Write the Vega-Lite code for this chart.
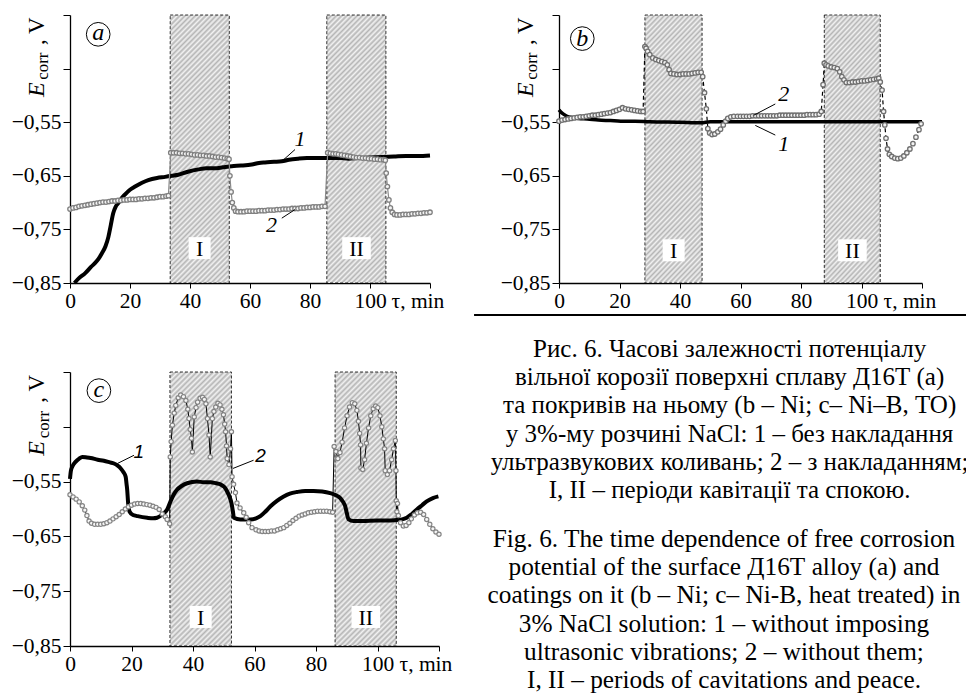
{
"$schema": "https://vega.github.io/schema/vega-lite/v6.json",
"padding": {"left": 11, "top": 4, "right": 0, "bottom": 0},
"background": "white",
"columns": 2,
"bounds": "flush",
"align": "each",
"spacing": {"row": 89, "column": 120},
"config": {
  "view": {"stroke": null},
  "font": "Liberation Serif",
  "text": {"font": "Liberation Serif", "fill": "black"},
  "axis": {"grid": false, "domainColor": "black", "domainWidth": 1.3, "tickColor": "black", "tickWidth": 1, "labelColor": "black", "labelFont": "Liberation Serif", "labelFontSize": 21.5, "labelPadding": 2, "labelOverlap": false, "labelFlush": false, "labelBound": false},
  "rect": {"stroke": "black", "strokeDash": [3, 2], "strokeWidth": 0.8, "fill": {"gradient": "linear", "x1": 0, "y1": 0, "x2": 0.26, "y2": 1.165, "stops": [
{"offset":0,"color":"#b5b5b5"},{"offset":0.008,"color":"#f2f2f2"},{"offset":0.016,"color":"#b5b5b5"},{"offset":0.024,"color":"#f2f2f2"},{"offset":0.032,"color":"#b5b5b5"},{"offset":0.04,"color":"#f2f2f2"},{"offset":0.048,"color":"#b5b5b5"},{"offset":0.056,"color":"#f2f2f2"},{"offset":0.064,"color":"#b5b5b5"},{"offset":0.072,"color":"#f2f2f2"},{"offset":0.08,"color":"#b5b5b5"},{"offset":0.088,"color":"#f2f2f2"},{"offset":0.096,"color":"#b5b5b5"},{"offset":0.104,"color":"#f2f2f2"},{"offset":0.112,"color":"#b5b5b5"},{"offset":0.12,"color":"#f2f2f2"},{"offset":0.128,"color":"#b5b5b5"},{"offset":0.136,"color":"#f2f2f2"},{"offset":0.144,"color":"#b5b5b5"},{"offset":0.152,"color":"#f2f2f2"},{"offset":0.16,"color":"#b5b5b5"},{"offset":0.168,"color":"#f2f2f2"},{"offset":0.176,"color":"#b5b5b5"},{"offset":0.184,"color":"#f2f2f2"},{"offset":0.192,"color":"#b5b5b5"},{"offset":0.2,"color":"#f2f2f2"},{"offset":0.208,"color":"#b5b5b5"},{"offset":0.216,"color":"#f2f2f2"},{"offset":0.224,"color":"#b5b5b5"},{"offset":0.232,"color":"#f2f2f2"},{"offset":0.24,"color":"#b5b5b5"},{"offset":0.248,"color":"#f2f2f2"},{"offset":0.256,"color":"#b5b5b5"},{"offset":0.264,"color":"#f2f2f2"},{"offset":0.272,"color":"#b5b5b5"},{"offset":0.28,"color":"#f2f2f2"},{"offset":0.288,"color":"#b5b5b5"},{"offset":0.296,"color":"#f2f2f2"},{"offset":0.304,"color":"#b5b5b5"},{"offset":0.312,"color":"#f2f2f2"},{"offset":0.32,"color":"#b5b5b5"},{"offset":0.328,"color":"#f2f2f2"},{"offset":0.336,"color":"#b5b5b5"},{"offset":0.344,"color":"#f2f2f2"},{"offset":0.352,"color":"#b5b5b5"},{"offset":0.36,"color":"#f2f2f2"},{"offset":0.368,"color":"#b5b5b5"},{"offset":0.376,"color":"#f2f2f2"},{"offset":0.384,"color":"#b5b5b5"},{"offset":0.392,"color":"#f2f2f2"},{"offset":0.4,"color":"#b5b5b5"},{"offset":0.408,"color":"#f2f2f2"},{"offset":0.416,"color":"#b5b5b5"},{"offset":0.424,"color":"#f2f2f2"},{"offset":0.432,"color":"#b5b5b5"},{"offset":0.44,"color":"#f2f2f2"},{"offset":0.448,"color":"#b5b5b5"},{"offset":0.456,"color":"#f2f2f2"},{"offset":0.464,"color":"#b5b5b5"},{"offset":0.472,"color":"#f2f2f2"},{"offset":0.48,"color":"#b5b5b5"},{"offset":0.488,"color":"#f2f2f2"},{"offset":0.496,"color":"#b5b5b5"},{"offset":0.504,"color":"#f2f2f2"},{"offset":0.512,"color":"#b5b5b5"},{"offset":0.52,"color":"#f2f2f2"},{"offset":0.528,"color":"#b5b5b5"},{"offset":0.536,"color":"#f2f2f2"},{"offset":0.544,"color":"#b5b5b5"},{"offset":0.552,"color":"#f2f2f2"},{"offset":0.56,"color":"#b5b5b5"},{"offset":0.568,"color":"#f2f2f2"},{"offset":0.576,"color":"#b5b5b5"},{"offset":0.584,"color":"#f2f2f2"},{"offset":0.592,"color":"#b5b5b5"},{"offset":0.6,"color":"#f2f2f2"},{"offset":0.608,"color":"#b5b5b5"},{"offset":0.616,"color":"#f2f2f2"},{"offset":0.624,"color":"#b5b5b5"},{"offset":0.632,"color":"#f2f2f2"},{"offset":0.64,"color":"#b5b5b5"},{"offset":0.648,"color":"#f2f2f2"},{"offset":0.656,"color":"#b5b5b5"},{"offset":0.664,"color":"#f2f2f2"},{"offset":0.672,"color":"#b5b5b5"},{"offset":0.68,"color":"#f2f2f2"},{"offset":0.688,"color":"#b5b5b5"},{"offset":0.696,"color":"#f2f2f2"},{"offset":0.704,"color":"#b5b5b5"},{"offset":0.712,"color":"#f2f2f2"},{"offset":0.72,"color":"#b5b5b5"},{"offset":0.728,"color":"#f2f2f2"},{"offset":0.736,"color":"#b5b5b5"},{"offset":0.744,"color":"#f2f2f2"},{"offset":0.752,"color":"#b5b5b5"},{"offset":0.76,"color":"#f2f2f2"},{"offset":0.768,"color":"#b5b5b5"},{"offset":0.776,"color":"#f2f2f2"},{"offset":0.784,"color":"#b5b5b5"},{"offset":0.792,"color":"#f2f2f2"},{"offset":0.8,"color":"#b5b5b5"},{"offset":0.808,"color":"#f2f2f2"},{"offset":0.816,"color":"#b5b5b5"},{"offset":0.824,"color":"#f2f2f2"},{"offset":0.832,"color":"#b5b5b5"},{"offset":0.84,"color":"#f2f2f2"},{"offset":0.848,"color":"#b5b5b5"},{"offset":0.856,"color":"#f2f2f2"},{"offset":0.864,"color":"#b5b5b5"},{"offset":0.872,"color":"#f2f2f2"},{"offset":0.88,"color":"#b5b5b5"},{"offset":0.888,"color":"#f2f2f2"},{"offset":0.896,"color":"#b5b5b5"},{"offset":0.904,"color":"#f2f2f2"},{"offset":0.912,"color":"#b5b5b5"},{"offset":0.92,"color":"#f2f2f2"},{"offset":0.928,"color":"#b5b5b5"},{"offset":0.936,"color":"#f2f2f2"},{"offset":0.944,"color":"#b5b5b5"},{"offset":0.952,"color":"#f2f2f2"},{"offset":0.96,"color":"#b5b5b5"},{"offset":0.968,"color":"#f2f2f2"},{"offset":0.976,"color":"#b5b5b5"},{"offset":0.984,"color":"#f2f2f2"},{"offset":0.992,"color":"#b5b5b5"},{"offset":1,"color":"#f2f2f2"}
  ]}}
},
"datasets": {
  "pa": [{"s":33.4,"f":53.1,"m":43.2,"lab":"I"},{"s":85.6,"f":105.3,"m":95.5,"lab":"II"}],
  "pb": [{"s":28.4,"f":47.3,"m":37.9,"lab":"I"},{"s":87.7,"f":106.2,"m":97.0,"lab":"II"}],
  "pc": [{"s":32.5,"f":52.5,"m":42.5,"lab":"I"},{"s":86.2,"f":106.1,"m":96.2,"lab":"II"}],
  "a1": [{"t":1.5,"e":-0.850},{"t":3,"e":-0.841},{"t":5,"e":-0.832},{"t":7,"e":-0.820},{"t":8.3,"e":-0.813},{"t":9.5,"e":-0.805},{"t":10.6,"e":-0.795},{"t":11.8,"e":-0.782},{"t":12.8,"e":-0.764},{"t":13.6,"e":-0.742},{"t":14.4,"e":-0.720},{"t":15.2,"e":-0.708},{"t":16.1,"e":-0.701},{"t":17.2,"e":-0.692},{"t":18.3,"e":-0.685},{"t":20,"e":-0.676},{"t":21.7,"e":-0.670},{"t":24,"e":-0.663},{"t":26.1,"e":-0.658},{"t":29,"e":-0.654},{"t":31.7,"e":-0.652},{"t":34,"e":-0.650},{"t":36.1,"e":-0.648},{"t":39,"e":-0.643},{"t":42.8,"e":-0.638},{"t":45.5,"e":-0.636},{"t":48.3,"e":-0.636},{"t":51,"e":-0.634},{"t":53.9,"e":-0.632},{"t":57,"e":-0.631},{"t":60.6,"e":-0.629},{"t":63,"e":-0.626},{"t":65,"e":-0.625},{"t":68,"e":-0.624},{"t":70.6,"e":-0.623},{"t":73,"e":-0.620},{"t":76.1,"e":-0.618},{"t":79,"e":-0.617},{"t":82.8,"e":-0.617},{"t":86,"e":-0.617},{"t":90,"e":-0.617},{"t":92.8,"e":-0.618},{"t":96,"e":-0.617},{"t":100,"e":-0.616},{"t":103.9,"e":-0.615},{"t":108,"e":-0.614},{"t":112,"e":-0.613},{"t":116,"e":-0.613},{"t":120,"e":-0.612}],
  "a2": [{"t":0,"e":-0.712},{"t":1,"e":-0.710},{"t":2,"e":-0.709},{"t":3,"e":-0.707},{"t":4,"e":-0.706},{"t":5,"e":-0.705},{"t":6,"e":-0.704},{"t":7,"e":-0.703},{"t":8,"e":-0.702},{"t":9,"e":-0.701},{"t":10,"e":-0.700},{"t":11,"e":-0.699},{"t":12,"e":-0.699},{"t":13,"e":-0.698},{"t":14,"e":-0.697},{"t":15,"e":-0.697},{"t":16,"e":-0.696},{"t":17,"e":-0.696},{"t":18,"e":-0.695},{"t":19,"e":-0.695},{"t":20,"e":-0.694},{"t":21,"e":-0.694},{"t":22,"e":-0.694},{"t":23,"e":-0.693},{"t":24,"e":-0.693},{"t":25,"e":-0.692},{"t":26,"e":-0.692},{"t":27,"e":-0.691},{"t":28,"e":-0.691},{"t":29,"e":-0.690},{"t":30,"e":-0.689},{"t":31,"e":-0.689},{"t":32,"e":-0.688},{"t":32.8,"e":-0.687},{"t":33.6,"e":-0.607},{"t":34.5,"e":-0.607},{"t":35.5,"e":-0.607},{"t":36.5,"e":-0.608},{"t":37.5,"e":-0.608},{"t":38.5,"e":-0.609},{"t":39.5,"e":-0.609},{"t":40.5,"e":-0.610},{"t":41.5,"e":-0.611},{"t":42.5,"e":-0.611},{"t":43.5,"e":-0.612},{"t":44.5,"e":-0.612},{"t":45.5,"e":-0.613},{"t":46.5,"e":-0.613},{"t":47.5,"e":-0.614},{"t":48.5,"e":-0.615},{"t":49.5,"e":-0.615},{"t":50.5,"e":-0.616},{"t":51.5,"e":-0.617},{"t":52.4,"e":-0.618},{"t":53.0,"e":-0.619},{"t":53.3,"e":-0.650},{"t":53.7,"e":-0.680},{"t":54.1,"e":-0.700},{"t":54.6,"e":-0.710},{"t":55.2,"e":-0.716},{"t":56,"e":-0.717},{"t":57,"e":-0.717},{"t":58,"e":-0.717},{"t":59,"e":-0.716},{"t":60,"e":-0.716},{"t":61,"e":-0.716},{"t":62,"e":-0.716},{"t":63,"e":-0.715},{"t":64,"e":-0.715},{"t":65,"e":-0.715},{"t":66,"e":-0.714},{"t":67,"e":-0.714},{"t":68,"e":-0.714},{"t":69,"e":-0.713},{"t":70,"e":-0.713},{"t":71,"e":-0.712},{"t":72,"e":-0.712},{"t":73,"e":-0.712},{"t":74,"e":-0.711},{"t":75,"e":-0.711},{"t":76,"e":-0.711},{"t":77,"e":-0.710},{"t":78,"e":-0.710},{"t":79,"e":-0.709},{"t":80,"e":-0.709},{"t":81,"e":-0.708},{"t":82,"e":-0.708},{"t":83,"e":-0.708},{"t":84,"e":-0.707},{"t":85,"e":-0.707},{"t":85.9,"e":-0.607},{"t":86.8,"e":-0.608},{"t":87.7,"e":-0.609},{"t":88.6,"e":-0.609},{"t":89.5,"e":-0.610},{"t":90.5,"e":-0.611},{"t":91.5,"e":-0.612},{"t":92.5,"e":-0.613},{"t":93.5,"e":-0.614},{"t":94.5,"e":-0.615},{"t":95.5,"e":-0.616},{"t":96.5,"e":-0.616},{"t":97.5,"e":-0.617},{"t":98.5,"e":-0.617},{"t":99.5,"e":-0.618},{"t":100.5,"e":-0.618},{"t":101.5,"e":-0.619},{"t":102.5,"e":-0.619},{"t":103.5,"e":-0.620},{"t":104.5,"e":-0.620},{"t":105.1,"e":-0.621},{"t":105.4,"e":-0.645},{"t":105.8,"e":-0.670},{"t":106.3,"e":-0.695},{"t":106.8,"e":-0.710},{"t":107.4,"e":-0.718},{"t":108.2,"e":-0.722},{"t":109,"e":-0.723},{"t":110,"e":-0.723},{"t":111,"e":-0.722},{"t":112,"e":-0.722},{"t":113,"e":-0.722},{"t":114,"e":-0.721},{"t":115,"e":-0.721},{"t":116,"e":-0.720},{"t":117,"e":-0.720},{"t":118,"e":-0.719},{"t":119,"e":-0.719},{"t":120,"e":-0.718}],
  "b1": [{"t":0,"e":-0.527},{"t":0.6,"e":-0.531},{"t":1.5,"e":-0.535},{"t":2.7,"e":-0.539},{"t":4.5,"e":-0.541},{"t":6.5,"e":-0.543},{"t":9.4,"e":-0.544},{"t":13,"e":-0.546},{"t":17,"e":-0.547},{"t":20.4,"e":-0.548},{"t":25,"e":-0.548},{"t":30,"e":-0.549},{"t":40,"e":-0.550},{"t":47,"e":-0.551},{"t":50,"e":-0.549},{"t":60,"e":-0.549},{"t":80,"e":-0.549},{"t":100,"e":-0.549},{"t":120,"e":-0.549}],
  "b2": [{"t":0,"e":-0.548},{"t":1,"e":-0.546},{"t":2,"e":-0.545},{"t":3,"e":-0.544},{"t":4,"e":-0.543},{"t":5,"e":-0.542},{"t":6,"e":-0.541},{"t":7,"e":-0.540},{"t":8,"e":-0.540},{"t":9,"e":-0.539},{"t":10,"e":-0.538},{"t":11,"e":-0.537},{"t":12,"e":-0.537},{"t":13,"e":-0.536},{"t":14,"e":-0.535},{"t":15,"e":-0.534},{"t":16,"e":-0.533},{"t":17,"e":-0.532},{"t":18,"e":-0.530},{"t":19,"e":-0.528},{"t":20,"e":-0.526},{"t":21,"e":-0.523},{"t":22,"e":-0.525},{"t":23,"e":-0.526},{"t":24,"e":-0.527},{"t":25,"e":-0.528},{"t":26,"e":-0.529},{"t":27,"e":-0.530},{"t":27.8,"e":-0.530},{"t":28.4,"e":-0.409},{"t":28.8,"e":-0.412},{"t":29.3,"e":-0.418},{"t":30,"e":-0.424},{"t":31,"e":-0.430},{"t":32,"e":-0.433},{"t":33,"e":-0.435},{"t":34,"e":-0.437},{"t":35,"e":-0.439},{"t":35.8,"e":-0.443},{"t":36.4,"e":-0.452},{"t":37,"e":-0.459},{"t":38,"e":-0.460},{"t":39,"e":-0.461},{"t":40,"e":-0.461},{"t":41,"e":-0.460},{"t":42,"e":-0.460},{"t":43,"e":-0.460},{"t":44,"e":-0.459},{"t":45,"e":-0.458},{"t":46,"e":-0.457},{"t":47,"e":-0.457},{"t":47.5,"e":-0.465},{"t":48.1,"e":-0.495},{"t":48.7,"e":-0.525},{"t":49.2,"e":-0.562},{"t":49.8,"e":-0.570},{"t":50.6,"e":-0.573},{"t":51.5,"e":-0.572},{"t":52.5,"e":-0.568},{"t":53.4,"e":-0.563},{"t":54.3,"e":-0.555},{"t":55.1,"e":-0.548},{"t":55.8,"e":-0.543},{"t":56.8,"e":-0.540},{"t":57.8,"e":-0.539},{"t":59,"e":-0.539},{"t":60,"e":-0.539},{"t":61,"e":-0.539},{"t":62,"e":-0.539},{"t":63,"e":-0.539},{"t":64,"e":-0.538},{"t":65,"e":-0.538},{"t":66,"e":-0.538},{"t":67,"e":-0.538},{"t":68,"e":-0.538},{"t":69,"e":-0.538},{"t":70,"e":-0.538},{"t":71,"e":-0.538},{"t":72,"e":-0.538},{"t":73,"e":-0.537},{"t":74,"e":-0.537},{"t":75,"e":-0.537},{"t":76,"e":-0.537},{"t":77,"e":-0.537},{"t":78,"e":-0.537},{"t":79,"e":-0.537},{"t":80,"e":-0.537},{"t":81,"e":-0.537},{"t":82,"e":-0.536},{"t":83,"e":-0.536},{"t":84,"e":-0.536},{"t":85,"e":-0.536},{"t":86,"e":-0.535},{"t":86.7,"e":-0.530},{"t":87.3,"e":-0.480},{"t":87.7,"e":-0.440},{"t":88.3,"e":-0.443},{"t":89,"e":-0.445},{"t":90,"e":-0.447},{"t":91,"e":-0.448},{"t":92,"e":-0.450},{"t":92.8,"e":-0.456},{"t":93.5,"e":-0.465},{"t":94.2,"e":-0.471},{"t":95,"e":-0.476},{"t":96,"e":-0.476},{"t":97,"e":-0.475},{"t":98,"e":-0.475},{"t":99,"e":-0.474},{"t":100,"e":-0.473},{"t":101,"e":-0.473},{"t":102,"e":-0.472},{"t":103,"e":-0.471},{"t":104,"e":-0.470},{"t":105,"e":-0.469},{"t":105.7,"e":-0.468},{"t":106.2,"e":-0.475},{"t":106.8,"e":-0.490},{"t":107.3,"e":-0.530},{"t":107.7,"e":-0.555},{"t":108.1,"e":-0.580},{"t":108.6,"e":-0.600},{"t":109.2,"e":-0.610},{"t":110,"e":-0.614},{"t":111,"e":-0.617},{"t":112,"e":-0.618},{"t":113,"e":-0.617},{"t":114,"e":-0.613},{"t":115,"e":-0.607},{"t":116,"e":-0.600},{"t":117,"e":-0.590},{"t":118,"e":-0.578},{"t":119,"e":-0.564},{"t":119.7,"e":-0.553}],
  "c1": [{"t":0,"e":-0.545},{"t":0.3,"e":-0.530},{"t":0.8,"e":-0.522},{"t":1.8,"e":-0.514},{"t":3,"e":-0.508},{"t":4,"e":-0.505},{"t":5.5,"e":-0.506},{"t":6.7,"e":-0.507},{"t":9,"e":-0.510},{"t":11,"e":-0.512},{"t":13,"e":-0.515},{"t":14.3,"e":-0.517},{"t":15.5,"e":-0.521},{"t":16.5,"e":-0.526},{"t":17.4,"e":-0.533},{"t":18.1,"e":-0.541},{"t":18.4,"e":-0.555},{"t":18.6,"e":-0.565},{"t":18.9,"e":-0.589},{"t":19.4,"e":-0.605},{"t":20.5,"e":-0.611},{"t":22,"e":-0.613},{"t":25.1,"e":-0.616},{"t":27,"e":-0.617},{"t":28.3,"e":-0.616},{"t":30,"e":-0.610},{"t":31.6,"e":-0.601},{"t":32.7,"e":-0.586},{"t":33.7,"e":-0.574},{"t":34.8,"e":-0.565},{"t":36.3,"e":-0.558},{"t":38.1,"e":-0.553},{"t":41.3,"e":-0.550},{"t":43.5,"e":-0.551},{"t":45.7,"e":-0.551},{"t":47.5,"e":-0.553},{"t":48.9,"e":-0.555},{"t":50.2,"e":-0.560},{"t":51.1,"e":-0.568},{"t":51.9,"e":-0.578},{"t":52.5,"e":-0.589},{"t":53,"e":-0.605},{"t":53.3,"e":-0.616},{"t":55.4,"e":-0.619},{"t":58.7,"e":-0.619},{"t":60.5,"e":-0.617},{"t":61.9,"e":-0.613},{"t":63.5,"e":-0.605},{"t":65.2,"e":-0.595},{"t":67.3,"e":-0.585},{"t":69.5,"e":-0.577},{"t":71.5,"e":-0.572},{"t":73.8,"e":-0.569},{"t":76.5,"e":-0.567},{"t":79.2,"e":-0.567},{"t":82,"e":-0.568},{"t":84.6,"e":-0.571},{"t":86.5,"e":-0.575},{"t":87.9,"e":-0.580},{"t":88.8,"e":-0.587},{"t":89.5,"e":-0.595},{"t":90,"e":-0.607},{"t":90.6,"e":-0.619},{"t":92.2,"e":-0.622},{"t":95,"e":-0.622},{"t":100,"e":-0.621},{"t":103,"e":-0.621},{"t":106.3,"e":-0.620},{"t":108,"e":-0.619},{"t":109.5,"e":-0.616},{"t":111,"e":-0.610},{"t":112.8,"e":-0.601},{"t":114.5,"e":-0.593},{"t":116,"e":-0.586},{"t":118,"e":-0.580},{"t":119.8,"e":-0.577}],
  "c2": [{"t":0,"e":-0.574},{"t":1,"e":-0.578},{"t":2,"e":-0.582},{"t":3,"e":-0.587},{"t":4,"e":-0.594},{"t":4.8,"e":-0.602},{"t":5.5,"e":-0.612},{"t":6.2,"e":-0.622},{"t":7,"e":-0.626},{"t":8,"e":-0.628},{"t":9,"e":-0.628},{"t":10,"e":-0.628},{"t":11,"e":-0.627},{"t":12,"e":-0.625},{"t":13,"e":-0.622},{"t":14,"e":-0.618},{"t":15,"e":-0.614},{"t":16,"e":-0.610},{"t":17,"e":-0.605},{"t":18,"e":-0.600},{"t":19,"e":-0.596},{"t":20,"e":-0.593},{"t":21,"e":-0.591},{"t":22,"e":-0.590},{"t":23,"e":-0.590},{"t":24,"e":-0.591},{"t":25,"e":-0.592},{"t":26,"e":-0.593},{"t":27,"e":-0.595},{"t":28,"e":-0.597},{"t":29,"e":-0.601},{"t":30,"e":-0.609},{"t":31,"e":-0.614},{"t":31.6,"e":-0.619},{"t":32.4,"e":-0.627},{"t":32.6,"e":-0.505},{"t":32.9,"e":-0.477},{"t":33.3,"e":-0.447},{"t":33.9,"e":-0.425},{"t":34.4,"e":-0.411},{"t":35.2,"e":-0.397},{"t":36.0,"e":-0.392},{"t":36.9,"e":-0.395},{"t":37.7,"e":-0.402},{"t":38.3,"e":-0.418},{"t":38.7,"e":-0.435},{"t":39.1,"e":-0.455},{"t":39.5,"e":-0.471},{"t":39.8,"e":-0.496},{"t":40.4,"e":-0.432},{"t":41.0,"e":-0.415},{"t":41.5,"e":-0.405},{"t":42.3,"e":-0.398},{"t":43.1,"e":-0.396},{"t":43.7,"e":-0.400},{"t":44.2,"e":-0.408},{"t":44.7,"e":-0.435},{"t":45.2,"e":-0.465},{"t":45.6,"e":-0.505},{"t":46.3,"e":-0.435},{"t":46.8,"e":-0.422},{"t":47.4,"e":-0.414},{"t":48.1,"e":-0.407},{"t":48.8,"e":-0.410},{"t":49.4,"e":-0.418},{"t":49.9,"e":-0.428},{"t":50.3,"e":-0.445},{"t":50.6,"e":-0.459},{"t":50.9,"e":-0.485},{"t":51.1,"e":-0.508},{"t":51.7,"e":-0.519},{"t":52.2,"e":-0.490},{"t":52.5,"e":-0.459},{"t":52.7,"e":-0.541},{"t":53.2,"e":-0.555},{"t":53.8,"e":-0.570},{"t":54.3,"e":-0.589},{"t":55.3,"e":-0.598},{"t":56.5,"e":-0.607},{"t":57.3,"e":-0.615},{"t":58.1,"e":-0.625},{"t":59.2,"e":-0.634},{"t":60.5,"e":-0.638},{"t":61.5,"e":-0.640},{"t":62.5,"e":-0.641},{"t":63.5,"e":-0.641},{"t":64.5,"e":-0.641},{"t":65.5,"e":-0.640},{"t":66.5,"e":-0.640},{"t":67.5,"e":-0.638},{"t":68.5,"e":-0.636},{"t":69.5,"e":-0.634},{"t":70.5,"e":-0.630},{"t":71.5,"e":-0.626},{"t":72.5,"e":-0.621},{"t":73.5,"e":-0.617},{"t":74.5,"e":-0.613},{"t":75.5,"e":-0.611},{"t":76.5,"e":-0.609},{"t":77.5,"e":-0.607},{"t":78.5,"e":-0.606},{"t":79.5,"e":-0.605},{"t":80.5,"e":-0.604},{"t":81.5,"e":-0.604},{"t":82.5,"e":-0.604},{"t":83.5,"e":-0.604},{"t":84.5,"e":-0.605},{"t":85.4,"e":-0.606},{"t":85.9,"e":-0.486},{"t":86.5,"e":-0.495},{"t":87.1,"e":-0.508},{"t":87.8,"e":-0.497},{"t":88.5,"e":-0.478},{"t":89.3,"e":-0.452},{"t":90.1,"e":-0.430},{"t":90.9,"e":-0.414},{"t":91.8,"e":-0.406},{"t":92.6,"e":-0.408},{"t":93.3,"e":-0.420},{"t":93.8,"e":-0.440},{"t":94.2,"e":-0.462},{"t":94.5,"e":-0.483},{"t":94.6,"e":-0.525},{"t":95.2,"e":-0.528},{"t":95.8,"e":-0.510},{"t":96.4,"e":-0.480},{"t":97.1,"e":-0.452},{"t":97.8,"e":-0.430},{"t":98.6,"e":-0.417},{"t":99.4,"e":-0.412},{"t":100.1,"e":-0.415},{"t":100.8,"e":-0.430},{"t":101.4,"e":-0.450},{"t":101.9,"e":-0.472},{"t":102.3,"e":-0.490},{"t":102.5,"e":-0.530},{"t":103.2,"e":-0.537},{"t":103.9,"e":-0.530},{"t":104.6,"e":-0.510},{"t":105.2,"e":-0.490},{"t":105.8,"e":-0.475},{"t":106.0,"e":-0.530},{"t":106.1,"e":-0.585},{"t":106.3,"e":-0.605},{"t":106.5,"e":-0.590},{"t":106.8,"e":-0.612},{"t":107.5,"e":-0.625},{"t":108.4,"e":-0.631},{"t":109.3,"e":-0.630},{"t":110.2,"e":-0.625},{"t":111,"e":-0.618},{"t":112,"e":-0.611},{"t":113,"e":-0.607},{"t":114,"e":-0.606},{"t":115,"e":-0.610},{"t":116,"e":-0.619},{"t":117,"e":-0.628},{"t":118,"e":-0.636},{"t":119,"e":-0.642},{"t":120,"e":-0.646}]
},
"concat": [
{
  "width": 360, "height": 268,
  "layer": [
    {"data": {"name": "pa"}, "mark": {"type": "rect"},
     "encoding": {
       "x": {"field": "s", "type": "quantitative", "title": null, "scale": {"domain": [0, 120], "nice": false},
             "axis": {"title": null, "values": [0,10,20,30,40,50,60,70,80,90,100,110,120], "tickSize": 5,
                      "labelExpr": "datum.value == 120 ? 'τ, min' : (datum.value % 20 == 0 ? datum.label : '')",
                      "labelAlign": {"condition": {"test": "datum.value == 120", "value": "left"}, "value": "center"},
                      "labelOffset": {"condition": {"test": "datum.value == 120", "value": -39}, "value": 0}}},
       "x2": {"field": "f"},
       "y": {"datum": -0.85, "type": "quantitative", "title": null, "scale": {"domain": [-0.85, -0.35], "nice": false, "zero": false},
             "axis": {"title": null, "values": [-0.85,-0.825,-0.8,-0.775,-0.75,-0.725,-0.7,-0.675,-0.65,-0.625,-0.6,-0.575,-0.55,-0.525,-0.5,-0.475,-0.45,-0.425,-0.4,-0.375,-0.35],
                      "tickSize": {"condition": {"test": "abs(datum.value*10 - floor(datum.value*10) - 0.5) < 0.01", "value": 7}, "value": 4},
                      "labelExpr": "(abs(datum.value*10 - floor(datum.value*10) - 0.5) < 0.01 && datum.value < -0.5) ? '−0,' + toString(round(-datum.value*100)) : ''"}},
       "y2": {"datum": -0.35}}},
    {"data": {"name": "a1"}, "mark": {"type": "line", "color": "black", "strokeWidth": 4, "interpolate": "monotone"},
     "encoding": {"x": {"field": "t", "type": "quantitative"}, "y": {"field": "e", "type": "quantitative"}}},
    {"data": {"name": "a2"}, "mark": {"type": "line", "color": "#8a8a8a", "strokeWidth": 1.2, "point": {"filled": true, "fill": "#f4f4f4", "stroke": "#808080", "strokeWidth": 1.3, "size": 20, "opacity": 1}},
     "encoding": {"x": {"field": "t", "type": "quantitative"}, "y": {"field": "e", "type": "quantitative"}}},
    {"data": {"name": "pa"}, "mark": {"type": "point", "filled": true, "fill": "white", "strokeWidth": 0, "size": 484, "opacity": 1},
     "encoding": {"x": {"field": "m", "type": "quantitative"}, "y": {"datum": -0.785},
                  "shape": {"field": "lab", "type": "nominal", "scale": {"domain": ["I", "II"], "range": ["square", "M-1.3,-1H1.3V1H-1.3Z"]}, "legend": null}}},
    {"data": {"name": "pa"}, "mark": {"type": "text", "fontSize": 22, "baseline": "middle", "dy": 1},
     "encoding": {"x": {"field": "m", "type": "quantitative"}, "y": {"datum": -0.785}, "text": {"field": "lab"}}},
    {"data": {"values": [{}]}, "mark": {"type": "point", "shape": "circle", "size": 560, "filled": false, "stroke": "black", "strokeWidth": 1, "opacity": 1},
     "encoding": {"x": {"datum": 9.4}, "y": {"datum": -0.386}}},
    {"data": {"values": [{}]}, "mark": {"type": "text", "text": "a", "fontStyle": "italic", "fontSize": 24, "baseline": "middle", "dy": -1},
     "encoding": {"x": {"datum": 9.4}, "y": {"datum": -0.386}}},
    {"data": {"values": [{"t": 76.7, "e": -0.582, "txt": "1"}, {"t": 67.2, "e": -0.741, "txt": "2"}]}, "mark": {"type": "text", "fontStyle": "italic", "fontSize": 22, "baseline": "middle"},
     "encoding": {"x": {"field": "t", "type": "quantitative"}, "y": {"field": "e", "type": "quantitative"}, "text": {"field": "txt"}}},
    {"data": {"values": [{"t": 75, "e": -0.601, "t2": 70.6, "e2": -0.623}, {"t": 70.6, "e": -0.729, "t2": 75, "e2": -0.713}]}, "mark": {"type": "rule", "color": "black", "strokeWidth": 1},
     "encoding": {"x": {"field": "t", "type": "quantitative"}, "y": {"field": "e", "type": "quantitative"}, "x2": {"field": "t2"}, "y2": {"field": "e2"}}},
    {"data": {"values": [{}]}, "mark": {"type": "text", "text": "E", "angle": 270, "align": "left", "baseline": "alphabetic", "fontSize": 24, "fontStyle": "italic"},
     "encoding": {"x": {"datum": -8.7}, "y": {"datum": -0.503}}},
    {"data": {"values": [{}]}, "mark": {"type": "text", "text": "corr", "angle": 270, "align": "left", "baseline": "alphabetic", "fontSize": 17},
     "encoding": {"x": {"datum": -7.2}, "y": {"datum": -0.471}}},
    {"data": {"values": [{}]}, "mark": {"type": "text", "text": ", V", "angle": 270, "align": "left", "baseline": "alphabetic", "fontSize": 23},
     "encoding": {"x": {"datum": -8.7}, "y": {"datum": -0.406}}}
  ]
},
{
  "width": 363, "height": 268,
  "layer": [
    {"data": {"name": "pb"}, "mark": {"type": "rect"},
     "encoding": {
       "x": {"field": "s", "type": "quantitative", "title": null, "scale": {"domain": [0, 120], "nice": false},
             "axis": {"title": null, "values": [0,10,20,30,40,50,60,70,80,90,100,110,120], "tickSize": 5,
                      "labelExpr": "datum.value == 120 ? 'τ, min' : (datum.value % 20 == 0 ? datum.label : '')",
                      "labelAlign": {"condition": {"test": "datum.value == 120", "value": "left"}, "value": "center"},
                      "labelOffset": {"condition": {"test": "datum.value == 120", "value": -39}, "value": 0}}},
       "x2": {"field": "f"},
       "y": {"datum": -0.85, "type": "quantitative", "title": null, "scale": {"domain": [-0.85, -0.35], "nice": false, "zero": false},
             "axis": {"title": null, "values": [-0.85,-0.825,-0.8,-0.775,-0.75,-0.725,-0.7,-0.675,-0.65,-0.625,-0.6,-0.575,-0.55,-0.525,-0.5,-0.475,-0.45,-0.425,-0.4,-0.375,-0.35],
                      "tickSize": {"condition": {"test": "abs(datum.value*10 - floor(datum.value*10) - 0.5) < 0.01", "value": 7}, "value": 4},
                      "labelExpr": "(abs(datum.value*10 - floor(datum.value*10) - 0.5) < 0.01 && datum.value < -0.5) ? '−0,' + toString(round(-datum.value*100)) : ''"}},
       "y2": {"datum": -0.35}}},
    {"data": {"name": "b1"}, "mark": {"type": "line", "color": "black", "strokeWidth": 3.5, "interpolate": "monotone"},
     "encoding": {"x": {"field": "t", "type": "quantitative"}, "y": {"field": "e", "type": "quantitative"}}},
    {"data": {"name": "b2"}, "mark": {"type": "line", "color": "black", "strokeWidth": 1.2, "strokeDash": [4, 3], "point": {"filled": true, "fill": "#f2f2f2", "stroke": "#707070", "strokeWidth": 1.3, "size": 20, "opacity": 1}},
     "encoding": {"x": {"field": "t", "type": "quantitative"}, "y": {"field": "e", "type": "quantitative"}}},
    {"data": {"name": "pb"}, "mark": {"type": "point", "filled": true, "fill": "white", "strokeWidth": 0, "size": 484, "opacity": 1},
     "encoding": {"x": {"field": "m", "type": "quantitative"}, "y": {"datum": -0.789},
                  "shape": {"field": "lab", "type": "nominal", "scale": {"domain": ["I", "II"], "range": ["square", "M-1.3,-1H1.3V1H-1.3Z"]}, "legend": null}}},
    {"data": {"name": "pb"}, "mark": {"type": "text", "fontSize": 22, "baseline": "middle", "dy": 1},
     "encoding": {"x": {"field": "m", "type": "quantitative"}, "y": {"datum": -0.789}, "text": {"field": "lab"}}},
    {"data": {"values": [{}]}, "mark": {"type": "point", "shape": "circle", "size": 560, "filled": false, "stroke": "black", "strokeWidth": 1, "opacity": 1},
     "encoding": {"x": {"datum": 7.7}, "y": {"datum": -0.394}}},
    {"data": {"values": [{}]}, "mark": {"type": "text", "text": "b", "fontStyle": "italic", "fontSize": 24, "baseline": "middle", "dy": 0},
     "encoding": {"x": {"datum": 7.7}, "y": {"datum": -0.394}}},
    {"data": {"values": [{"t": 74.3, "e": -0.498, "txt": "2"}, {"t": 74.3, "e": -0.590, "txt": "1"}]}, "mark": {"type": "text", "fontStyle": "italic", "fontSize": 22, "baseline": "middle"},
     "encoding": {"x": {"field": "t", "type": "quantitative"}, "y": {"field": "e", "type": "quantitative"}, "text": {"field": "txt"}}},
    {"data": {"values": [{"t": 71.5, "e": -0.516, "t2": 64.4, "e2": -0.537}, {"t": 71.5, "e": -0.574, "t2": 64.9, "e2": -0.556}]}, "mark": {"type": "rule", "color": "black", "strokeWidth": 1},
     "encoding": {"x": {"field": "t", "type": "quantitative"}, "y": {"field": "e", "type": "quantitative"}, "x2": {"field": "t2"}, "y2": {"field": "e2"}}},
    {"data": {"values": [{}]}, "mark": {"type": "text", "text": "E", "angle": 270, "align": "left", "baseline": "alphabetic", "fontSize": 24, "fontStyle": "italic"},
     "encoding": {"x": {"datum": -8.7}, "y": {"datum": -0.503}}},
    {"data": {"values": [{}]}, "mark": {"type": "text", "text": "corr", "angle": 270, "align": "left", "baseline": "alphabetic", "fontSize": 17},
     "encoding": {"x": {"datum": -7.2}, "y": {"datum": -0.471}}},
    {"data": {"values": [{}]}, "mark": {"type": "text", "text": ", V", "angle": 270, "align": "left", "baseline": "alphabetic", "fontSize": 23},
     "encoding": {"x": {"datum": -8.7}, "y": {"datum": -0.406}}}
  ]
},
{
  "width": 369, "height": 274,
  "layer": [
    {"data": {"name": "pc"}, "mark": {"type": "rect"},
     "encoding": {
       "x": {"field": "s", "type": "quantitative", "title": null, "scale": {"domain": [0, 120], "nice": false},
             "axis": {"title": null, "values": [0,10,20,30,40,50,60,70,80,90,100,110,120], "tickSize": 5,
                      "labelExpr": "datum.value == 120 ? 'τ, min' : (datum.value % 20 == 0 ? datum.label : '')",
                      "labelAlign": {"condition": {"test": "datum.value == 120", "value": "left"}, "value": "center"},
                      "labelOffset": {"condition": {"test": "datum.value == 120", "value": -40}, "value": 0}}},
       "x2": {"field": "f"},
       "y": {"datum": -0.85, "type": "quantitative", "title": null, "scale": {"domain": [-0.85, -0.35], "nice": false, "zero": false},
             "axis": {"title": null, "values": [-0.85,-0.825,-0.8,-0.775,-0.75,-0.725,-0.7,-0.675,-0.65,-0.625,-0.6,-0.575,-0.55,-0.525,-0.5,-0.475,-0.45,-0.425,-0.4,-0.375,-0.35],
                      "tickSize": {"condition": {"test": "abs(datum.value*10 - floor(datum.value*10) - 0.5) < 0.01", "value": 7}, "value": 4},
                      "labelExpr": "(abs(datum.value*10 - floor(datum.value*10) - 0.5) < 0.01 && datum.value < -0.5) ? '−0,' + toString(round(-datum.value*100)) : ''"}},
       "y2": {"datum": -0.35}}},
    {"data": {"name": "c1"}, "mark": {"type": "line", "color": "black", "strokeWidth": 4, "interpolate": "monotone"},
     "encoding": {"x": {"field": "t", "type": "quantitative"}, "y": {"field": "e", "type": "quantitative"}}},
    {"data": {"name": "c2"}, "mark": {"type": "line", "color": "black", "strokeWidth": 1, "point": {"filled": true, "fill": "#f6f6f6", "stroke": "#858585", "strokeWidth": 1.2, "size": 18, "opacity": 1}},
     "encoding": {"x": {"field": "t", "type": "quantitative"}, "y": {"field": "e", "type": "quantitative"}}},
    {"data": {"name": "pc"}, "mark": {"type": "point", "filled": true, "fill": "white", "strokeWidth": 0, "size": 484, "opacity": 1},
     "encoding": {"x": {"field": "m", "type": "quantitative"}, "y": {"datum": -0.797},
                  "shape": {"field": "lab", "type": "nominal", "scale": {"domain": ["I", "II"], "range": ["square", "M-1.3,-1H1.3V1H-1.3Z"]}, "legend": null}}},
    {"data": {"name": "pc"}, "mark": {"type": "text", "fontSize": 22, "baseline": "middle", "dy": 1},
     "encoding": {"x": {"field": "m", "type": "quantitative"}, "y": {"datum": -0.797}, "text": {"field": "lab"}}},
    {"data": {"values": [{}]}, "mark": {"type": "point", "shape": "circle", "size": 560, "filled": false, "stroke": "black", "strokeWidth": 1, "opacity": 1},
     "encoding": {"x": {"datum": 9.4}, "y": {"datum": -0.384}}},
    {"data": {"values": [{}]}, "mark": {"type": "text", "text": "c", "fontStyle": "italic", "fontSize": 24, "baseline": "middle", "dy": -1},
     "encoding": {"x": {"datum": 9.4}, "y": {"datum": -0.384}}},
    {"data": {"values": [{"t": 22.4, "e": -0.496, "txt": "1"}, {"t": 62, "e": -0.504, "txt": "2"}]}, "mark": {"type": "text", "font": "Liberation Sans", "fontStyle": "italic", "fontSize": 19, "baseline": "middle"},
     "encoding": {"x": {"field": "t", "type": "quantitative"}, "y": {"field": "e", "type": "quantitative"}, "text": {"field": "txt"}}},
    {"data": {"values": [{"t": 20.8, "e": -0.502, "t2": 15.4, "e2": -0.517}, {"t": 59.7, "e": -0.511, "t2": 53, "e2": -0.526}]}, "mark": {"type": "rule", "color": "black", "strokeWidth": 1},
     "encoding": {"x": {"field": "t", "type": "quantitative"}, "y": {"field": "e", "type": "quantitative"}, "x2": {"field": "t2"}, "y2": {"field": "e2"}}},
    {"data": {"values": [{}]}, "mark": {"type": "text", "text": "E", "angle": 270, "align": "left", "baseline": "alphabetic", "fontSize": 24, "fontStyle": "italic"},
     "encoding": {"x": {"datum": -8.3}, "y": {"datum": -0.503}}},
    {"data": {"values": [{}]}, "mark": {"type": "text", "text": "corr", "angle": 270, "align": "left", "baseline": "alphabetic", "fontSize": 17},
     "encoding": {"x": {"datum": -6.9}, "y": {"datum": -0.471}}},
    {"data": {"values": [{}]}, "mark": {"type": "text", "text": ", V", "angle": 270, "align": "left", "baseline": "alphabetic", "fontSize": 23},
     "encoding": {"x": {"datum": -8.3}, "y": {"datum": -0.406}}}
  ]
},
{
  "width": 363, "height": 274,
  "layer": [
    {"data": {"values": [{}]}, "mark": {"type": "rule", "color": "black", "strokeWidth": 2},
     "encoding": {"x": {"datum": -0.234, "type": "quantitative", "scale": {"domain": [0, 1], "nice": false}, "axis": null},
                  "x2": {"datum": 1.124},
                  "y": {"datum": -0.208, "type": "quantitative", "scale": {"domain": [0, 1], "nice": false, "reverse": true}, "axis": null}}},
    {"data": {"values": [{"txt": "Рис. 6. Часові залежності потенціалу\nвільної корозії поверхні сплаву Д16Т (a)\nта покривів на ньому (b – Ni; c– Ni–B, ТО)\nу 3%-му розчині NaCl: 1 – без накладання\nультразвукових коливань; 2 – з накладанням;\nI, II – періоди кавітації та спокою."}]},
     "mark": {"type": "text", "fontSize": 25, "lineHeight": 28.3, "lineBreak": "\n", "align": "center", "baseline": "alphabetic"},
     "encoding": {"text": {"field": "txt"}, "x": {"datum": 0.47, "axis": null}, "y": {"datum": -0.056, "axis": null}}},
    {"data": {"values": [{"txt": "Fig. 6. The time dependence of free corrosion\npotential of the surface Д16Т alloy (a) and\ncoatings on it (b – Ni; c– Ni-B, heat treated) in\n3% NaCl solution: 1 – without imposing\nultrasonic vibrations; 2 – without them;\nI, II – periods of cavitations and peace."}]},
     "mark": {"type": "text", "fontSize": 25.3, "lineHeight": 28.3, "lineBreak": "\n", "align": "center", "baseline": "alphabetic"},
     "encoding": {"text": {"field": "txt"}, "x": {"datum": 0.4545, "axis": null}, "y": {"datum": 0.638, "axis": null}}}
  ]
}
]
}
